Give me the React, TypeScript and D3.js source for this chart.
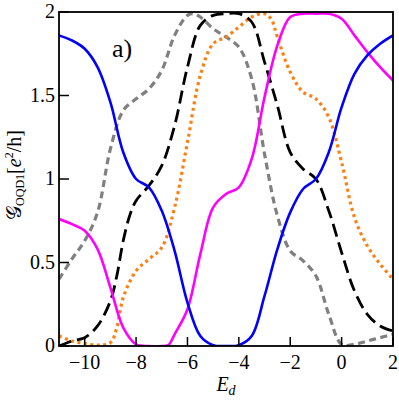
import React from "react";
import * as d3 from "d3";

const W = 399, H = 401;
const M = { left: 59, right: 6, top: 12, bottom: 55 };

const xTicks = [-10, -8, -6, -4, -2, 0, 2];
const yTicks = [0, 0.5, 1, 1.5, 2];
const yTickLabels = ["0", "0.5", "1", "1.5", "2"];

const blueE = [-11, -10.5, -10, -9.5, -9, -8.5, -8, -7.5, -7, -6.5, -6, -5.5, -5, -4.5, -4, -3.5, -3, -2.5, -2, -1.5, -1, -0.5, 0, 0.5, 1, 1.5, 2];
const blueG = [1.86, 1.83, 1.78, 1.67, 1.46, 1.16, 1.0, 0.95, 0.81, 0.57, 0.26, 0.06, 0.005, 0, 0.005, 0.06, 0.3, 0.58, 0.8, 0.94, 1.0, 1.16, 1.43, 1.63, 1.74, 1.81, 1.86];

const magE = [-11, -10.5, -10, -9.5, -9, -8.5, -8, -7.5, -7, -6.75, -6.5, -6, -5.5, -5, -4.5, -4, -3.5, -3, -2.5, -2, -1.5, -1, -0.5, 0, 0.5, 1, 1.5, 2];
const magG = [0.76, 0.73, 0.69, 0.58, 0.35, 0.11, 0.01, 0, 0, 0.005, 0.07, 0.22, 0.55, 0.83, 0.91, 0.95, 1.12, 1.49, 1.8, 1.97, 1.99, 1.99, 1.99, 1.96, 1.86, 1.76, 1.67, 1.59];

const blackE = [-11, -10.5, -10, -9.5, -9, -8.75, -8.5, -8.25, -8, -7.5, -7, -6.5, -6, -5.5, -5, -4.5, -4, -3.5, -3, -2.5, -2, -1.5, -1, -0.5, 0, 0.5, 1, 1.5, 2];
const blackG = [0.0, 0.03, 0.05, 0.12, 0.27, 0.42, 0.63, 0.78, 0.87, 0.96, 1.08, 1.32, 1.67, 1.92, 1.98, 1.99, 1.99, 1.94, 1.7, 1.44, 1.16, 1.06, 1.0, 0.81, 0.56, 0.33, 0.19, 0.12, 0.09];

const grayE = [-11, -10.5, -10, -9.5, -9, -8.5, -8, -7.5, -7, -6.5, -6, -5.75, -5.5, -5, -4.5, -4, -3.5, -3, -2.5, -2, -1.5, -1, -0.5, 0, 0.5, 1, 1.5, 2];
const grayG = [0.4, 0.52, 0.63, 0.8, 1.18, 1.41, 1.48, 1.54, 1.65, 1.86, 1.98, 1.99, 1.97, 1.9, 1.85, 1.79, 1.6, 1.15, 0.78, 0.57, 0.51, 0.42, 0.19, 0.01, 0.01, 0.03, 0.05, 0.07];

const orangeE = [-11, -10.5, -10, -9.5, -9, -8.75, -8.5, -8, -7.5, -7, -6.5, -6, -5.5, -5, -4.5, -4, -3.5, -3, -2.75, -2.5, -2, -1.5, -1, -0.5, 0, 0.5, 1, 1.5, 2];
const orangeG = [0.06, 0.03, 0.015, 0.005, 0.02, 0.11, 0.29, 0.45, 0.52, 0.59, 0.83, 1.22, 1.62, 1.81, 1.85, 1.91, 1.97, 1.99, 1.96, 1.85, 1.64, 1.52, 1.48, 1.37, 1.1, 0.77, 0.6, 0.49, 0.4];

const series = [
  { E: grayE, G: grayG, color: "#808080", width: 3.2, dash: "7,4.5" },
  { E: orangeE, G: orangeG, color: "#ff7f0e", width: 3.2, dash: "3,3.5" },
  { E: blackE, G: blackG, color: "#000000", width: 2.8, dash: "13,6" },
  { E: magE, G: magG, color: "#ff00ff", width: 2.6, dash: "" },
  { E: blueE, G: blueG, color: "#0000ff", width: 2.6, dash: "" },
];

const SERIF = { fontFamily: '"Liberation Serif"' };

export default function App() {
  const x = d3.scaleLinear().domain([-11, 2]).range([M.left, W - M.right]);
  const y = d3.scaleLinear().domain([0, 2]).range([H - M.bottom, M.top]);
  const line = d3
    .line<[number, number]>()
    .x((d) => x(d[0]))
    .y((d) => y(d[1]))
    .curve(d3.curveCatmullRom.alpha(0.5));
  const x0 = x(-11), x1 = x(2), y0 = y(0), y1 = y(2);
  return (
    <svg width={W} height={H} style={{ position: "absolute", left: 0, top: 0 }}>
      {xTicks.map((t) => (
        <text key={"xl" + t} x={x(t)} y={y0 + 23} fontSize={20} textAnchor="middle" style={SERIF}>
          {t < 0 ? "\u2212" + Math.abs(t) : String(t)}
        </text>
      ))}
      {yTicks.map((t, i) => (
        <text key={"yl" + t} x={x0 - 4} y={y(t) + 6} fontSize={20} textAnchor="end" style={SERIF}>
          {yTickLabels[i]}
        </text>
      ))}
      <text x={112} y={57} fontSize={26} style={SERIF}>a)</text>
      <text x={(x0 + x1) / 2} y={391} fontSize={20} textAnchor="middle" fontStyle="italic" style={SERIF}>
        E<tspan fontSize={14} dy={4}>d</tspan>
      </text>
      <text transform={`translate(21,175) rotate(-90)`} fontSize={20} textAnchor="middle" style={SERIF}>
        <tspan>{"\u{1D4A2}"}</tspan>
        <tspan fontSize={12} dy={3}>OQD1</tspan>
        <tspan dy={-3}>[</tspan>
        <tspan fontStyle="italic">e</tspan>
        <tspan fontSize={12} dy={-8}>2</tspan>
        <tspan dy={8}>/h]</tspan>
      </text>
      <defs>
        <clipPath id="plot">
          <rect x={x0} y={y1} width={x1 - x0} height={y0 - y1} />
        </clipPath>
      </defs>
      <g clipPath="url(#plot)">
        {series.map((s, i) => (
          <path
            key={i}
            d={line(s.E.map((e, j) => [e, s.G[j]] as [number, number])) || ""}
            fill="none"
            stroke={s.color}
            strokeWidth={s.width}
            strokeDasharray={s.dash || undefined}
          />
        ))}
      </g>
      <rect x={x0} y={y1} width={x1 - x0} height={y0 - y1} fill="none" stroke="#000" strokeWidth={1.8} />
      {xTicks.map((t) => (
        <line key={"xt" + t} x1={x(t)} x2={x(t)} y1={y0} y2={y0 - 9} stroke="#000" strokeWidth={1.5} />
      ))}
      {yTicks.map((t) => (
        <line key={"yt" + t} x1={x0} x2={x0 + 10} y1={y(t)} y2={y(t)} stroke="#000" strokeWidth={1.5} />
      ))}
    </svg>
  );
}
